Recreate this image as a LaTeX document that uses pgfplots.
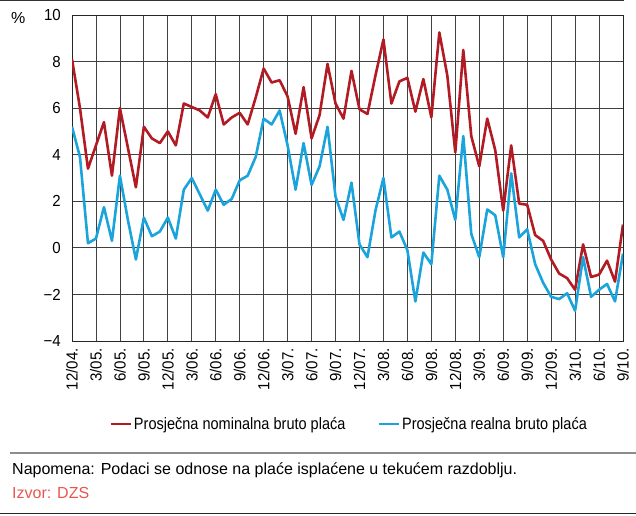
\documentclass[border=0pt]{standalone}
\usepackage{fontspec}
\setmainfont{Liberation Sans}
\newfontfamily\condfont[FakeStretch=0.88]{Liberation Sans}
\newfontfamily\tickfont[FakeStretch=0.94]{Liberation Sans}
\usepackage{pgfplots}
\usepackage{pgfplotstable}
\pgfplotsset{compat=1.18}
\definecolor{nomred}{HTML}{B31B24}
\definecolor{realblue}{HTML}{1BA3DB}
\definecolor{izvor}{HTML}{E8574E}
\pgfplotstableread{
i nom real
0 8.1 5.2
1 6.0 3.9
2 3.4 0.2
3 4.4 0.4
4 5.4 1.75
5 3.1 0.3
6 6.0 3.1
7 4.3 1.2
8 2.6 -0.5
9 5.2 1.3
10 4.7 0.5
11 4.5 0.7
12 5.0 1.3
13 4.4 0.4
14 6.2 2.5
15 6.05 3.0
16 5.9 2.3
17 5.6 1.6
18 6.6 2.5
19 5.3 1.85
20 5.6 2.1
21 5.8 2.9
22 5.3 3.1
23 6.45 3.9
24 7.7 5.55
25 7.1 5.3
26 7.2 5.9
27 6.5 4.4
28 4.9 2.5
29 6.9 4.5
30 4.7 2.7
31 5.7 3.5
32 7.9 5.2
33 6.2 2.2
34 5.55 1.2
35 7.6 2.8
36 5.95 0.15
37 5.75 -0.4
38 7.4 1.6
39 8.95 3.0
40 6.2 0.45
41 7.15 0.7
42 7.3 -0.1
43 5.85 -2.3
44 7.25 -0.2
45 5.6 -0.7
46 9.25 3.1
47 7.4 2.5
48 4.1 1.2
49 8.5 4.8
50 4.8 0.6
51 3.5 -0.4
52 5.55 1.65
53 4.2 1.4
54 1.6 -0.4
55 4.4 3.2
56 1.9 0.45
57 1.85 0.8
58 0.55 -0.7
59 0.3 -1.5
60 -0.5 -2.1
61 -1.1 -2.2
62 -1.3 -1.95
63 -1.8 -2.7
64 0.15 -0.4
65 -1.25 -2.1
66 -1.15 -1.8
67 -0.55 -1.55
68 -1.45 -2.3
69 1.0 -0.25
}\datatable
\begin{document}
\begin{tikzpicture}
\useasboundingbox (0pt,0pt) rectangle (636pt,-515pt);
\draw[black!80, line width=1.2pt] (0pt,-0.6pt) -- (624pt,-0.6pt);
\node[font=\fontsize{16}{16}\selectfont, anchor=west, inner sep=0pt] at (11pt,-18pt) {\%};
\begin{axis}[
  at={(72pt,-341pt)}, anchor=south west,
  scale only axis, width=551pt, height=326pt,
  xmin=0, xmax=69, ymin=-4, ymax=10,
  xtick={0,3,...,69},
  xticklabels={12/04.,3/05.,6/05.,9/05.,12/05.,3/06.,6/06.,9/06.,12/06.,3/07.,6/07.,9/07.,12/07.,3/08.,6/08.,9/08.,12/08.,3/09.,6/09.,9/09.,12/09.,3/10.,6/10.,9/10.},
  ytick={-4,-2,0,2,4,6,8,10},
  yticklabels={−4,−2,0,2,4,6,8,10},
  major tick length=0pt,
  xmajorgrids, ymajorgrids,
  grid style={black!75, line width=0.8pt},
  axis line style={black!85, line width=1pt},
  x tick label style={rotate=90, anchor=east, inner sep=0pt, font=\tickfont\fontsize{16}{16}\selectfont},
  xticklabel shift=7pt,
  y tick label style={anchor=east, inner sep=0pt, font=\tickfont\fontsize{16}{16}\selectfont},
  yticklabel shift=11pt,
  legend columns=2,
  legend style={at={(0.503,-0.255)}, anchor=center, draw=none, fill=none,
    font=\condfont\fontsize{16.5}{16.5}\selectfont,
    /tikz/every even column/.append style={column sep=30pt}},
  legend image code/.code={\draw[#1, line width=2.6pt] (0pt,0pt) -- (20pt,0pt);},
]
\addplot[nomred, line width=2.6pt, line join=round] table[x=i, y=nom] {\datatable};
\addlegendentry{Prosječna nominalna bruto plaća}
\addplot[realblue, line width=2.6pt, line join=round] table[x=i, y=real] {\datatable};
\addlegendentry{Prosječna realna bruto plaća}
\end{axis}
\draw[black!45, line width=1.5pt] (10pt,-453pt) -- (636pt,-453pt);
\node[font=\fontsize{16}{16}\selectfont, anchor=west, inner sep=0pt] at (12pt,-470pt) {Napomena: Podaci se odnose na plaće isplaćene u tekućem razdoblju.};
\node[font=\fontsize{16}{16}\selectfont, anchor=west, inner sep=0pt, text=izvor] at (12pt,-493pt) {Izvor: DZS};
\draw[black!85, line width=1.5pt] (0pt,-513.5pt) -- (636pt,-513.5pt);
\end{tikzpicture}
\end{document}
